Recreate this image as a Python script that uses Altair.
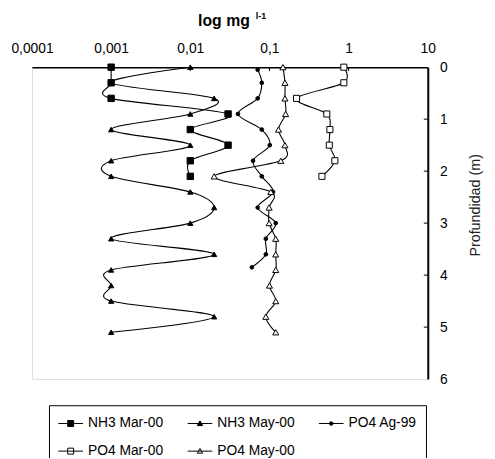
import altair as alt
import pandas as pd

# ---------------- data ----------------
series_names = ["NH3 Mar-00", "NH3 May-00", "PO4 Ag-99", "PO4 Mar-00", "PO4 May-00"]

mar_depth = [0.0, 0.3, 0.6, 0.9, 1.2, 1.5, 1.8, 2.1]
nh3_mar = [0.001, 0.001, 0.001, 0.03, 0.01, 0.03, 0.01, 0.01]
po4_mar = [0.87, 0.87, 0.22, 0.53, 0.58, 0.57, 0.67, 0.46]

may_depth = [0.0, 0.3, 0.6, 0.9, 1.2, 1.5, 1.8, 2.1, 2.4, 2.7, 3.0, 3.3, 3.6, 3.9, 4.2, 4.5, 4.8, 5.1]
nh3_may = [0.01, 0.001, 0.02, 0.01, 0.001, 0.01, 0.001, 0.001, 0.01, 0.02, 0.01, 0.001,
           0.02, 0.001, 0.001, 0.001, 0.02, 0.001]
po4_may = [0.148, 0.157, 0.157, 0.16, 0.13, 0.157, 0.139, 0.02, 0.104, 0.099, 0.099, 0.12,
           0.12, 0.12, 0.10, 0.12, 0.09, 0.12]

ag_depth = [0.05, 0.3, 0.6, 0.9, 1.2, 1.5, 1.8, 2.1, 2.4, 2.7, 3.0, 3.3, 3.6, 3.85]
po4_ag = [0.071, 0.080, 0.071, 0.040, 0.080, 0.101, 0.062, 0.080, 0.111, 0.071, 0.120,
          0.090, 0.090, 0.060]

x_ticks = [0.0001, 0.001, 0.01, 0.1, 1, 10]
y_ticks = [0, 1, 2, 3, 4, 5, 6]

rows = []
for name, depths, vals in [
    ("NH3 Mar-00", mar_depth, nh3_mar),
    ("NH3 May-00", may_depth, nh3_may),
    ("PO4 Ag-99", ag_depth, po4_ag),
    ("PO4 Mar-00", mar_depth, po4_mar),
    ("PO4 May-00", may_depth, po4_may),
]:
    for i, (d, v) in enumerate(zip(depths, vals)):
        rows.append({"series": name, "depth": d, "value": v, "idx": i})
df = pd.DataFrame(rows)

FONT = "Liberation Sans"
W, H = 401, 316

x_enc = alt.X(
    "value:Q",
    scale=alt.Scale(type="log", domain=[0.0001, 10]),
    axis=alt.Axis(
        orient="top", values=x_ticks, title=None, grid=False, ticks=False,
        labelExpr="replace(toString(datum.value), '.', ',')",
        labelFont=FONT, labelFontSize=14, labelColor="black", labelPadding=12,
        labelFlush=False, labelOverlap=False,
        domainColor="black", domainWidth=1.5,
    ),
)
y_enc = alt.Y(
    "depth:Q",
    scale=alt.Scale(domain=[0, 6], reverse=True, nice=False, zero=False),
    axis=alt.Axis(
        orient="right", values=y_ticks, format="d", title="Profundidad (m)",
        grid=False, ticks=False,
        labelFont=FONT, labelFontSize=14, labelColor="black", labelPadding=12,
        labelFlush=False, labelOverlap=False,
        domainColor="black", domainWidth=2,
        titleFont=FONT, titleFontSize=14.5, titleFontWeight="normal", titleColor="#222",
        titleAngle=270, titleX=48, titleY=139.5, titleAlign="center", titleBaseline="middle",
    ),
)

base = alt.Chart(df)

lines = base.mark_line(
    interpolate="cardinal", tension=0, color="black", strokeWidth=1.1
).encode(x=x_enc, y=y_enc, detail="series:N", order="idx:Q")

point_styles = {
    "NH3 Mar-00": dict(shape="square", fill="black", size=42),
    "NH3 May-00": dict(shape="triangle-up", fill="black", size=28),
    "PO4 Ag-99": dict(shape="circle", fill="black", size=14),
    "PO4 Mar-00": dict(shape="square", fill="white", size=38),
    "PO4 May-00": dict(shape="triangle-up", fill="white", size=38),
}
point_layers = []
for name in series_names:
    st = point_styles[name]
    point_layers.append(
        base.transform_filter(alt.datum.series == name)
        .mark_point(shape=st["shape"], filled=True, fill=st["fill"], stroke="black",
                    strokeWidth=1, size=st["size"], opacity=1)
        .encode(x=x_enc, y=y_enc)
    )

# legend-only layer (no rows drawn; legend shows line+marker symbols)
legend_paths = [
    "M-2.08,0H2.08M-0.5,-0.5H0.5V0.5H-0.5Z",
    "M-2.08,0H2.08M0,-0.45L0.45,0.35L-0.45,0.35Z",
    "M-2.08,0H2.08M-0.3,0A0.3,0.3 0 1,0 0.3,0A0.3,0.3 0 1,0 -0.3,0Z",
    "M-2.08,0H2.08M-0.5,-0.5H0.5V0.5H-0.5Z",
    "M-2.08,0H2.08M0,-0.45L0.45,0.35L-0.45,0.35Z",
]
legend_fills = ["black", "black", "black", "white", "white"]
legend_strokes = ["black"] * 5
leg = alt.Legend(
    title=None, orient="none", legendX=25.7, legendY=354, direction="horizontal",
    columns=3, symbolSize=144, symbolOffset=6.5, labelOffset=10.5,
    columnPadding=22, rowPadding=14, padding=0,
    labelFont=FONT, labelFontSize=14, labelColor="black", labelLimit=300,
    symbolStrokeWidth=1, symbolOpacity=1,
)
legend_layer = base.transform_filter("datum.depth < 0").mark_point(
    filled=True, strokeWidth=1
).encode(
    x=x_enc, y=y_enc,
    fill=alt.Fill("series:N", scale=alt.Scale(domain=series_names, range=legend_fills), legend=leg),
    stroke=alt.Stroke("series:N", scale=alt.Scale(domain=series_names, range=legend_strokes), legend=leg),
    shape=alt.Shape("series:N", scale=alt.Scale(domain=series_names, range=legend_paths), legend=leg),
)

# inside tick marks
xtick_layer = alt.Chart(alt.Data(values=[{"value": v} for v in [0.001, 0.01, 0.1, 1]])).mark_rule(
    color="black", strokeWidth=1
).encode(x=x_enc, y=alt.value(0), y2=alt.value(4))
ytick_layer = alt.Chart(alt.Data(values=[{"depth": d} for d in [1, 2, 3, 4, 5]])).mark_rule(
    color="black", strokeWidth=1
).encode(y=y_enc, x=alt.value(W - 4), x2=alt.value(W))

# axis title with superscript
one = alt.Data(values=[{"k": 1}])
title_main = alt.Chart(one).mark_text(
    text="log mg", font=FONT, fontSize=16, fontWeight="bold", align="right",
    baseline="alphabetic", color="black"
).encode(x=alt.value(220.7), y=alt.value(-41.5))
title_sup = alt.Chart(one).mark_text(
    text="l-1", font=FONT, fontSize=9, fontWeight="bold", align="left",
    baseline="alphabetic", color="black"
).encode(x=alt.value(226.7), y=alt.value(-48.5))

legend_box = alt.Chart(one).mark_rect(
    fill="transparent", stroke="black", strokeWidth=1
).encode(x=alt.value(17.7), x2=alt.value(399.7), y=alt.value(343), y2=alt.value(420))

chart = alt.layer(
    lines, *point_layers, legend_layer, xtick_layer, ytick_layer,
    title_main, title_sup, legend_box
).properties(
    width=W, height=H,
    padding={"left": 24.3, "top": 57, "right": 60, "bottom": 77},
    autosize=alt.AutoSizeParams(type="none"),
).configure_view(
    stroke="#444", strokeWidth=1.5
).configure(
    font=FONT
)

chart.save("out.html", embed_options={"renderer": "svg", "actions": False})
